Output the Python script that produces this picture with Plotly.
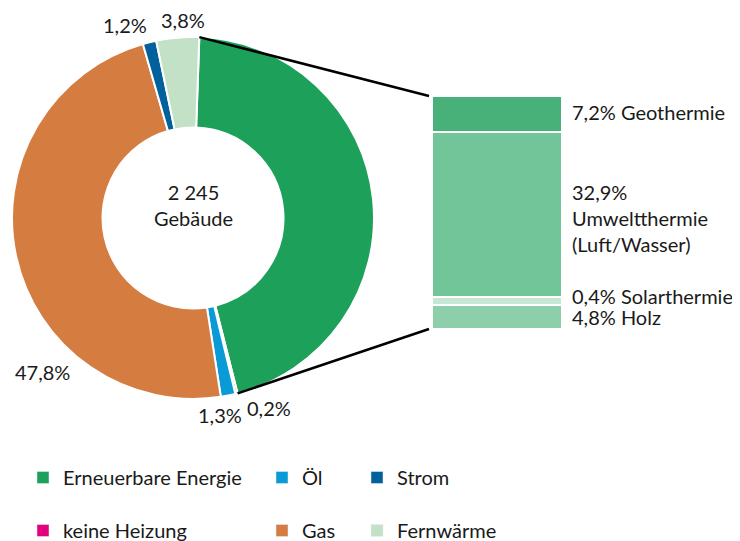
import math
import plotly.graph_objects as go

# The page body adds an 8px margin, so the figure is sized to end exactly at the window edge
OFF = 8
W, H = 740 - OFF, 541 - OFF
FONT = "Lato"
FS = 20
TXT = "#1a1a1a"

# ---- data ----
pie_labels = ["Erneuerbare Energie", "keine Heizung", "Öl", "Gas", "Strom", "Fernwärme"]
pie_values = [45.3, 0.2, 1.3, 47.8, 1.2, 3.8]
pie_colors = ["#1ca05a", "#e4007d", "#0a9bd6", "#d57c41", "#00619c", "#c2e1c6"]
pie_text = ["", "0,2%", "1,3%", "47,8%", "1,2%", "3,8%"]

sub_labels = ["Geothermie", "Umweltthermie (Luft/Wasser)", "Solarthermie", "Holz"]
sub_values = [7.2, 32.9, 0.4, 4.8]
sub_text = ["7,2% Geothermie", "32,9%<br>Umweltthermie<br>(Luft/Wasser)", "0,4% Solarthermie", "4,8% Holz"]
sub_colors = ["#48b079", "#72c499", "#c5e7d3", "#8ecfab"]
MIN_VISIBLE = 1.5  # smallest drawn segment height (%), so tiny shares stay visible

legend_cols = [["Erneuerbare Energie", "keine Heizung"], ["Öl", "Gas"], ["Strom", "Fernwärme"]]
center_text = "2 245<br>Gebäude"


def px(x):  # screen pixel -> paper x
    return (x - OFF) / W


def py(y):  # screen pixel -> paper y
    return 1 - (y - OFF) / H


# ---- geometry (screen pixels) ----
cx, cy, R = 193, 218, 181
pie_dom_x = [px(cx - R), px(cx + R)]
pie_dom_y = [py(cy + R), py(cy - R)]
bar_px_x = (432, 562)
bar_px_y = (96, 329)
bar_dom_x = [px(bar_px_x[0]), px(bar_px_x[1])]
bar_dom_y = [py(bar_px_y[1]), py(bar_px_y[0])]
rotation = 2

fig = go.Figure()
fig.add_trace(go.Pie(
    labels=pie_labels, values=pie_values, sort=False, direction="clockwise",
    rotation=rotation, hole=0.5, textinfo="none", showlegend=False,
    marker=dict(colors=pie_colors, line=dict(color="white", width=2)),
    domain=dict(x=pie_dom_x, y=pie_dom_y), hoverinfo="label+percent",
))

disp = [max(v, MIN_VISIBLE) for v in sub_values]
for lab, v, d, c in zip(sub_labels, sub_values, disp, sub_colors):
    fig.add_trace(go.Bar(
        x=[0], y=[d], name=lab, marker=dict(color=c, line=dict(color="white", width=2)),
        width=1, showlegend=False, customdata=[v], hovertemplate=lab + ": %{customdata}%<extra></extra>",
    ))

# legend entries (three columns -> three legends)
col_map = dict(zip(pie_labels, pie_colors))
for li, col in enumerate(legend_cols):
    lname = "legend" if li == 0 else f"legend{li + 1}"
    for lab in col:
        fig.add_trace(go.Bar(x=[None], y=[None], name=lab, marker_color=col_map[lab],
                             legend=lname, legendgroup=lab, showlegend=True))

total_disp = sum(disp)
fig.update_layout(
    width=W, height=H, margin=dict(l=0, r=0, t=0, b=0, autoexpand=False),
    paper_bgcolor="white", plot_bgcolor="white", barmode="stack",
    font=dict(family=FONT, size=FS, color=TXT),
    xaxis=dict(domain=bar_dom_x, range=[-0.5, 0.5], visible=False, fixedrange=True),
    yaxis=dict(domain=bar_dom_y, range=[total_disp, 0], visible=False, fixedrange=True),
)
leg_x = [23, 262, 357]
for li in range(3):
    key = "legend" if li == 0 else f"legend{li + 1}"
    fig.layout[key] = dict(x=px(leg_x[li]), xanchor="left", y=py(458), yanchor="top",
                           orientation="v", traceorder="grouped", tracegroupgap=24,
                           bgcolor="rgba(0,0,0,0)", font=dict(family=FONT, size=FS, color=TXT))

# center text
fig.add_annotation(x=px(cx), y=py(205), xref="paper", yref="paper", xanchor="center",
                   yanchor="middle", text=center_text, showarrow=False, font=dict(size=FS))

# pie labels
label_pos = {"3,8%": (183, 20), "1,2%": (125, 25), "47,8%": (42, 372), "1,3%": (220, 415), "0,2%": (269, 408)}
for t in pie_text:
    if t:
        lx, ly = label_pos[t]
        fig.add_annotation(x=px(lx), y=py(ly), xref="paper", yref="paper", text=t,
                           xanchor="center", yanchor="middle", showarrow=False, font=dict(size=FS))

# bar labels
shifts = [2, -3, 5, 0]
cum = 0
for t, d, s in zip(sub_text, disp, shifts):
    mid = cum + d / 2
    cum += d
    fig.add_annotation(x=px(570), y=mid, xref="paper", yref="y", text=t, xanchor="left",
                       yanchor="middle", align="left", showarrow=False, yshift=s, font=dict(size=FS))

# connector lines from pie (renewable slice edges) to bar corners
tot = sum(pie_values)
a0 = math.radians(rotation)
a1 = math.radians(rotation + 360 * pie_values[0] / tot)
for ang, by in ((a0, bar_px_y[0]), (a1, bar_px_y[1])):
    sx = cx + R * math.sin(ang)
    sy = cy - R * math.cos(ang)
    fig.add_shape(type="line", xref="paper", yref="paper", x0=px(sx), y0=py(sy),
                  x1=px(bar_px_x[0] - 3), y1=py(by), line=dict(color="black", width=2.5))

fig.write_html("out.html")
